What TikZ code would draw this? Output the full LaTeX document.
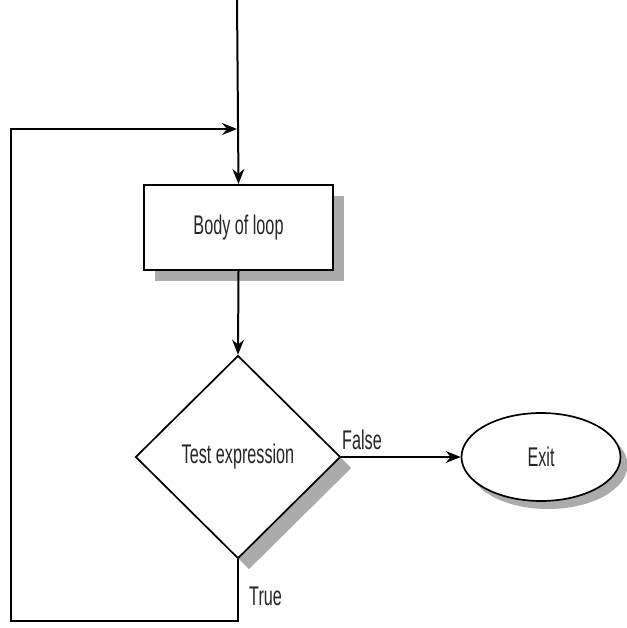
\documentclass[tikz,border=0pt]{standalone}
\usepackage{fontspec}
\setmainfont{Liberation Sans}[FakeStretch=0.6]
\usetikzlibrary{shapes.geometric,shadows,arrows.meta}
\begin{document}
\begin{tikzpicture}[x=1pt,y=-1pt,
  every node/.style={font=\fontsize{27}{30}\selectfont, text=black!85},
  shade/.style={drop shadow={shadow xshift=11pt, shadow yshift=-11pt, fill=black!33, opacity=1}},
  arr/.style={line width=2pt, -{Stealth[length=15pt,width=12pt,inset=5pt]}}]
\useasboundingbox[fill=white] (0,0) rectangle (626,628);

% process box, decision and terminal
\node[draw, line width=2.2pt, fill=white, shade, minimum width=189pt, minimum height=85pt, inner sep=0pt]
  (body) at (238.5,227.5) {Body of loop};
\node[draw, diamond, aspect=1, line width=1.7pt, fill=white, shade, minimum width=205pt, minimum height=203pt, inner sep=0pt]
  (test) at (238,457) {Test expression};
\node[draw, ellipse, line width=1.7pt, fill=white,
  drop shadow={shadow xshift=7pt, shadow yshift=-8pt, fill=black!33, opacity=1},
  minimum width=159pt, minimum height=88pt, inner sep=0pt]
  (exit) at (541,457) {Exit};

% loop points
\coordinate (top) at (237,0);
\coordinate (merge) at (237,129);
\coordinate (back) at (11,621);

% connectors
\draw[arr] (top) -- (body.north);
\draw[arr] (body.south) -- (test.north);
\draw[arr] (test.east) -- (exit.west);
\draw[arr] (test.south) |- (back) |- (merge);

% branch labels
\node[anchor=south west, inner sep=0pt] (lfalse) at (342,450) {False};
\node[anchor=west, inner sep=0pt] (ltrue) at (249,596) {True};
\end{tikzpicture}
\end{document}
